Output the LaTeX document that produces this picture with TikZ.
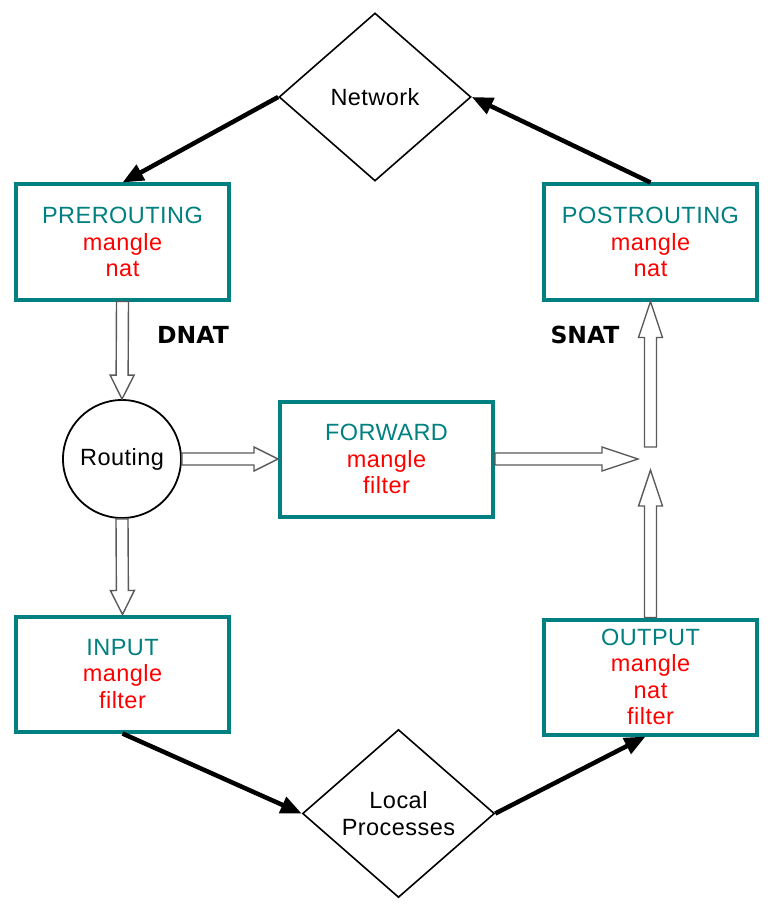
\documentclass[tikz,border=0pt]{standalone}
\usepackage{fontspec}
\setmainfont{Liberation Sans}[LetterSpace=2]
\newfontfamily\natfont{DejaVu Sans}
\usetikzlibrary{shapes.geometric,arrows.meta,calc}
\definecolor{tealc}{RGB}{0,128,128}
\definecolor{redc}{RGB}{255,0,0}
\definecolor{hollowgray}{RGB}{90,90,90}
\newcommand\hollowarrow[3]{%
  \path[hollow] ($(#1)!6pt!90:(#2)$) -- ($(#2)!#3!(#1)!6pt!90:(#2)$) -- ($(#2)!#3!(#1)!12pt!90:(#2)$)
   -- (#2) -- ($(#2)!#3!(#1)!12pt!-90:(#2)$) -- ($(#2)!#3!(#1)!6pt!-90:(#2)$) -- ($(#1)!6pt!-90:(#2)$) -- cycle;}
\tikzset{
  txt/.style={font=\fontsize{23.5}{26.5}\selectfont},
  chainbox/.style={txt, draw=tealc, text=tealc, line width=4pt, minimum width=213pt, minimum height=115pt, inner sep=0pt, align=center},
  place/.style={txt, draw, diamond, line width=1.6pt, minimum width=192pt, minimum height=168pt, inner sep=0pt, align=center},
  router/.style={txt, draw, circle, line width=1.8pt, minimum size=118pt, inner sep=0pt},
  flow/.style={line width=4.5pt, -{Triangle[length=21pt,width=17pt]}},
  hollow/.style={draw=hollowgray, fill=white, line width=1.4pt, line join=miter},
  natlabel/.style={font=\natfont\bfseries\fontsize{23.5}{26}\selectfont}
}
\begin{document}
\begin{tikzpicture}[x=1pt,y=-1pt]
\useasboundingbox[fill=white] (0,0) rectangle (776,909);
\node[place] (net) at (375,97) {Network};
\node[place] (local) at (398.5,813.5) {Local\\Processes};
\node[chainbox] (pre) at (122.5,242) {PREROUTING\\\textcolor{redc}{mangle}\\\textcolor{redc}{nat}};
\node[chainbox] (post) at (650.5,242) {POSTROUTING\\\textcolor{redc}{mangle}\\\textcolor{redc}{nat}};
\node[chainbox] (fwd) at (386.5,459) {FORWARD\\\textcolor{redc}{mangle}\\\textcolor{redc}{filter}};
\node[chainbox] (in) at (122.5,674) {INPUT\\\textcolor{redc}{mangle}\\\textcolor{redc}{filter}};
\node[chainbox] (out) at (650.5,677) {OUTPUT\\\textcolor{redc}{mangle}\\\textcolor{redc}{nat}\\\textcolor{redc}{filter}};
\node[router] (routing) at (122,459) {Routing};
\node[natlabel] (dnat) at (193,335) {DNAT};
\node[natlabel] (snat) at (585,335) {SNAT};
\coordinate (fwdend) at (638,459);
\coordinate (outend) at (650.5,470);
\coordinate (poststart) at (650.5,447);
\draw[flow] (net.west) -- (pre.north);
\draw[flow] (post.north) -- (net.east);
\draw[flow] (in.south) -- (local.west);
\draw[flow] (local.east) -- ($(out.south)+(-5,0)$);
\hollowarrow{pre.south}{routing.north}{24pt}
\hollowarrow{routing.east}{fwd.west}{24pt}
\hollowarrow{routing.south}{in.north}{24pt}
\hollowarrow{fwd.east}{fwdend}{36pt}
\hollowarrow{out.north}{outend}{36pt}
\hollowarrow{poststart}{post.south}{36pt}
\end{tikzpicture}
\end{document}
